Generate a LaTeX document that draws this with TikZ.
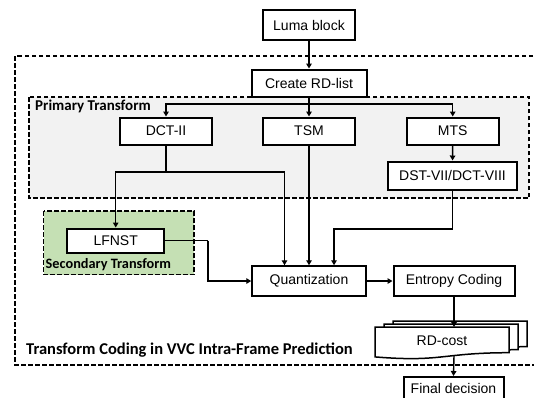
\documentclass[tikz,border=0pt]{standalone}
\usepackage{fontspec}
\setmainfont{Liberation Sans}
\newfontfamily\lblfont{Carlito}
\usetikzlibrary{arrows.meta}
\definecolor{grayfill}{HTML}{F2F2F2}
\definecolor{greenfill}{HTML}{C5E0B4}
\begin{document}
\begin{tikzpicture}[x=1pt,y=-1pt,
  box/.style={draw, line width=2pt, fill=white, inner sep=0pt, font=\fontsize{14}{16}\selectfont},
  conn/.style={line width=1.4pt, -{Triangle[length=5pt,width=5.5pt]}},
  plain/.style={line width=1.4pt},
  dashbox/.style={line width=1.4pt, dash pattern=on 4.5pt off 2.5pt},
  lbl/.style={anchor=west, inner sep=0pt, font=\lblfont\bfseries\fontsize{15}{17}\selectfont},
  doc/.style={draw, line width=1.5pt, fill=white}]
\useasboundingbox (0,0) rectangle (534,397);
\clip (0,0) rectangle (534,397);
% outer dashed frame
\draw[dashbox] (15,56) rectangle (560,365);
% primary transform region
\draw[dashbox, fill=grayfill] (29,97) rectangle (529,198);
\node[lbl] (plabel) at (35,106) {Primary Transform};
% secondary transform region
\draw[dashbox, fill=greenfill] (43.5,211) rectangle (194,274.5);
\node[lbl, font=\lblfont\bfseries\fontsize{14.3}{16}\selectfont] (slabel) at (45.5,264.5) {Secondary Transform};
% main label
\node[lbl, font=\lblfont\bfseries\fontsize{16.5}{18}\selectfont] (mlabel) at (26,350) {Transform Coding in VVC Intra-Frame Prediction};

% boxes
\node[box, minimum width=92pt, minimum height=29.5pt] (luma) at (309,25) {Luma block};
\node[box, minimum width=115pt, minimum height=27.5pt] (rdlist) at (309,83.3) {Create RD-list};
\node[box, minimum width=92pt, minimum height=27pt] (dct) at (166,131) {DCT-II};
\node[box, minimum width=92pt, minimum height=27pt] (tsm) at (309,131) {TSM};
\node[box, minimum width=92pt, minimum height=27pt] (mts) at (452.7,131) {MTS};
\node[box, minimum width=129pt, minimum height=28pt] (dst) at (452.5,175.5) {DST-VII/DCT-VIII};
\node[box, minimum width=97pt, minimum height=24pt] (lfnst) at (115.7,240.5) {LFNST};
\node[box, minimum width=113.5pt, minimum height=29.5pt] (quant) at (309,281) {Quantization};
\node[box, minimum width=121pt, minimum height=29.5pt] (entropy) at (454,281) {Entropy Coding};
\node[box, minimum width=100pt, minimum height=22pt] (final) at (453.5,388) {Final decision};

% RD-cost stacked documents
\foreach \dx/\dy in {18/-6, 9/-3, 0/0}{
  \draw[doc] (375+\dx,327+\dy) -- (509+\dx,327+\dy) -- (509+\dx,352.7+\dy)
    .. controls (442+\dx,352.7+\dy) and (442+\dx,362.4+\dy) .. (375+\dx,356.9+\dy) -- cycle;
}
\node[inner sep=0pt, font=\fontsize{14}{16}\selectfont] (rdcost) at (442,341) {RD-cost};
\coordinate (rdtop) at (454,327);
\coordinate (rdbot) at (454,355.5);

% connectors
\draw[conn] (luma) -- (rdlist);
\draw[conn] (rdlist) -- (tsm);
\coordinate (split) at (309,104);
\draw[conn] (split) -| (dct.north);
\draw[conn] (split) -| (mts.north);
\draw[conn] (mts) -- (dst);
\coordinate (d1) at (166,172);
\draw[plain] (dct.south) -- (d1);
\draw[conn] (d1) -| (lfnst.north);
\draw[conn] (d1) -| ([xshift=-24.5pt]quant.north);
\draw[conn] (tsm) -- (quant);
\coordinate (d2) at (452.5,228.8);
\draw[plain] (dst.south) -- (d2);
\draw[conn] (d2) -| ([xshift=25pt]quant.north);
\coordinate (l1) at (208,240.5);
\draw[plain] (lfnst.east) -- (l1);
\draw[conn] (l1) |- (quant.west);
\draw[conn] (quant) -- (entropy);
\draw[conn] (entropy.south) -- (rdtop);
\draw[conn] (rdbot) -- (final.north);
\end{tikzpicture}
\end{document}
